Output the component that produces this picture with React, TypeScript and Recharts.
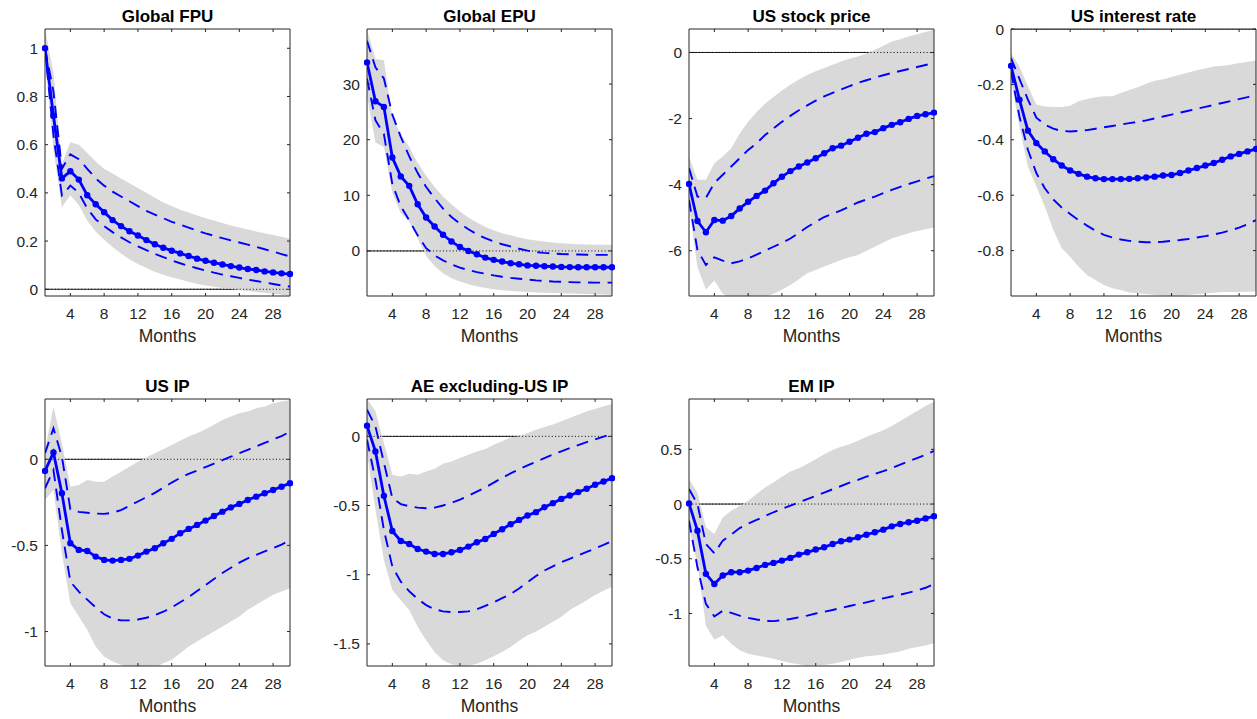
import React from 'react';
import { ComposedChart, Line, Area, XAxis, YAxis } from 'recharts';

// horizon (months) and shared x ticks
const months = [1, 2, 3, 4, 5, 6, 7, 8, 9, 10, 11, 12, 13, 14, 15, 16, 17, 18, 19, 20, 21, 22, 23, 24, 25, 26, 27, 28, 29, 30];
const monthTicks = [4, 8, 12, 16, 20, 24, 28];

// Global FPU
const fpuMed = [1.0, 0.72, 0.46, 0.49, 0.455, 0.39, 0.353, 0.32, 0.287, 0.262, 0.241, 0.223, 0.204, 0.187, 0.172, 0.16, 0.149, 0.138, 0.127, 0.118, 0.11, 0.103, 0.096, 0.09, 0.084, 0.08, 0.074, 0.07, 0.066, 0.063];
const fpuUp = [1.0, 0.82, 0.5, 0.56, 0.54, 0.5, 0.46, 0.43, 0.405, 0.385, 0.365, 0.345, 0.325, 0.31, 0.295, 0.28, 0.268, 0.256, 0.243, 0.232, 0.222, 0.212, 0.203, 0.194, 0.185, 0.176, 0.166, 0.156, 0.146, 0.136];
const fpuLo = [1.0, 0.64, 0.39, 0.43, 0.4, 0.335, 0.29, 0.262, 0.237, 0.215, 0.195, 0.178, 0.162, 0.147, 0.133, 0.12, 0.108, 0.097, 0.087, 0.078, 0.069, 0.061, 0.054, 0.047, 0.04, 0.034, 0.028, 0.022, 0.016, 0.011];
const fpuBandHi = [1.08, 0.9, 0.52, 0.61, 0.6, 0.565, 0.53, 0.5, 0.48, 0.46, 0.44, 0.42, 0.4, 0.38, 0.36, 0.345, 0.33, 0.318, 0.306, 0.295, 0.285, 0.275, 0.265, 0.256, 0.248, 0.24, 0.232, 0.225, 0.218, 0.21];
const fpuBandLo = [0.95, 0.58, 0.34, 0.39, 0.35, 0.285, 0.24, 0.205, 0.175, 0.148, 0.125, 0.105, 0.088, 0.073, 0.06, 0.05, 0.04, 0.031, 0.023, 0.016, 0.01, 0.005, 0.001, -0.003, -0.007, -0.011, -0.015, -0.019, -0.023, -0.027];
const fpuTicks = [0, 0.2, 0.4, 0.6, 0.8, 1];

// Global EPU
const epuMed = [33.9, 26.9, 25.9, 16.8, 13.4, 11.7, 8.4, 6.0, 4.4, 2.9, 1.7, 0.7, 0.0, -0.6, -1.2, -1.6, -1.9, -2.2, -2.4, -2.6, -2.65, -2.75, -2.8, -2.87, -2.9, -2.93, -2.93, -2.93, -2.93, -2.93];
const epuUp = [37.8, 33, 31, 24.5, 20.5, 17, 14, 11.5, 9.5, 7.6, 6.1, 4.9, 3.9, 3.0, 2.3, 1.7, 1.2, 0.8, 0.4, 0.05, -0.2, -0.35, -0.45, -0.55, -0.6, -0.65, -0.68, -0.7, -0.7, -0.7];
const epuLo = [31, 23.5, 21, 12, 8, 5.5, 2.8, 0.5, -0.8, -1.7, -2.4, -3.0, -3.45, -3.8, -4.1, -4.4, -4.65, -4.85, -5.0, -5.15, -5.3, -5.4, -5.5, -5.55, -5.6, -5.65, -5.68, -5.7, -5.7, -5.7];
const epuBandHi = [39.8, 34.5, 34.3, 24, 21, 18.7, 15.8, 13.5, 11.5, 9.8, 8.4, 7.1, 6.0, 5.1, 4.3, 3.7, 3.2, 2.8, 2.4, 2.1, 1.9, 1.7, 1.5, 1.4, 1.3, 1.2, 1.15, 1.1, 1.1, 1.1];
const epuBandLo = [28, 19.5, 18.7, 10.4, 6.8, 5.3, 2.2, -0.9, -2.7, -4.0, -4.9, -5.5, -6.0, -6.35, -6.65, -6.9, -7.05, -7.2, -7.3, -7.4, -7.45, -7.5, -7.55, -7.6, -7.65, -7.7, -7.75, -7.8, -7.85, -7.9];
const epuTicks = [0, 10, 20, 30];

// US stock price
const stockMed = [-3.98, -5.1, -5.44, -5.07, -5.09, -4.95, -4.72, -4.52, -4.34, -4.18, -3.96, -3.76, -3.59, -3.45, -3.33, -3.2, -3.05, -2.9, -2.82, -2.7, -2.58, -2.46, -2.41, -2.29, -2.19, -2.11, -2.01, -1.92, -1.87, -1.82];
const stockUp = [-3.5, -4.36, -4.4, -3.95, -3.7, -3.45, -3.2, -2.95, -2.75, -2.5, -2.3, -2.1, -1.92, -1.75, -1.6, -1.46, -1.33, -1.22, -1.12, -1.02, -0.92, -0.84, -0.76, -0.69, -0.62, -0.56, -0.5, -0.44, -0.38, -0.32];
const stockLo = [-4.46, -5.98, -6.43, -6.2, -6.3, -6.38, -6.32, -6.23, -6.12, -6.0, -5.88, -5.76, -5.63, -5.46, -5.28, -5.13, -4.98, -4.88, -4.78, -4.66, -4.54, -4.45, -4.36, -4.26, -4.16, -4.07, -3.98, -3.9, -3.82, -3.74];
const stockBandHi = [-3.15, -3.85, -3.85, -3.35, -3.15, -2.9, -2.45, -2.1, -1.8, -1.55, -1.35, -1.15, -0.98, -0.82, -0.68, -0.57, -0.47, -0.37, -0.27, -0.19, -0.12, -0.03, 0.08, 0.2, 0.33, 0.4, 0.48, 0.55, 0.62, 0.69];
const stockBandLo = [-4.65, -6.5, -7.17, -6.9, -7.3, -7.45, -7.5, -7.5, -7.45, -7.4, -7.3, -7.18, -7.04, -6.86, -6.68, -6.58, -6.48, -6.38, -6.28, -6.2, -6.13, -6.0, -5.88, -5.75, -5.63, -5.55, -5.47, -5.4, -5.35, -5.3];
const stockTicks = [-6, -4, -2, 0];

// US interest rate
const rateMed = [-0.133, -0.255, -0.367, -0.412, -0.442, -0.47, -0.493, -0.511, -0.523, -0.533, -0.539, -0.542, -0.542, -0.542, -0.541, -0.539, -0.536, -0.533, -0.529, -0.527, -0.52, -0.511, -0.502, -0.493, -0.484, -0.472, -0.46, -0.451, -0.442, -0.433];
const rateUp = [-0.105, -0.18, -0.255, -0.32, -0.345, -0.36, -0.368, -0.37, -0.368, -0.365, -0.36, -0.355, -0.35, -0.345, -0.34, -0.335, -0.33, -0.323, -0.316, -0.309, -0.302, -0.295, -0.288, -0.281, -0.274, -0.267, -0.26, -0.253, -0.246, -0.238];
const rateLo = [-0.153, -0.316, -0.436, -0.52, -0.575, -0.615, -0.645, -0.668, -0.69, -0.71, -0.728, -0.743, -0.753, -0.76, -0.765, -0.768, -0.77, -0.77, -0.768, -0.765, -0.762, -0.758, -0.753, -0.748, -0.742, -0.735, -0.727, -0.717, -0.705, -0.69];
const rateBandHi = [-0.087, -0.135, -0.207, -0.273, -0.28, -0.282, -0.282, -0.277, -0.261, -0.253, -0.246, -0.243, -0.243, -0.231, -0.22, -0.21, -0.198, -0.187, -0.181, -0.173, -0.165, -0.157, -0.149, -0.143, -0.135, -0.133, -0.129, -0.123, -0.119, -0.113];
const rateBandLo = [-0.183, -0.352, -0.496, -0.569, -0.641, -0.725, -0.792, -0.822, -0.858, -0.888, -0.906, -0.924, -0.936, -0.942, -0.951, -0.954, -0.957, -0.96, -0.962, -0.963, -0.962, -0.96, -0.958, -0.955, -0.952, -0.95, -0.95, -0.95, -0.949, -0.948];
const rateTicks = [-0.8, -0.6, -0.4, -0.2, 0];

// US IP
const usipMed = [-0.068, 0.039, -0.197, -0.487, -0.526, -0.532, -0.565, -0.584, -0.588, -0.584, -0.578, -0.559, -0.536, -0.516, -0.487, -0.462, -0.429, -0.404, -0.381, -0.356, -0.329, -0.304, -0.279, -0.259, -0.236, -0.217, -0.197, -0.178, -0.159, -0.139];
const usipUp = [0.035, 0.18, 0.015, -0.29, -0.305, -0.31, -0.315, -0.317, -0.31, -0.295, -0.27, -0.245, -0.22, -0.195, -0.165, -0.135, -0.108, -0.085, -0.065, -0.045, -0.025, -0.005, 0.015, 0.035, 0.055, 0.075, 0.095, 0.115, 0.135, 0.16];
const usipLo = [-0.168, -0.062, -0.41, -0.71, -0.768, -0.815, -0.86, -0.9, -0.925, -0.935, -0.935, -0.93, -0.92, -0.905, -0.885, -0.86, -0.83, -0.8, -0.765, -0.73, -0.695, -0.66, -0.63, -0.6, -0.575, -0.555, -0.535, -0.515, -0.495, -0.47];
const usipBandHi = [0.05, 0.306, 0.093, -0.159, -0.149, -0.12, -0.13, -0.13, -0.1, -0.072, -0.043, -0.014, 0.012, 0.035, 0.058, 0.083, 0.108, 0.132, 0.151, 0.174, 0.2, 0.228, 0.248, 0.267, 0.277, 0.296, 0.306, 0.325, 0.335, 0.344];
const usipBandLo = [-0.236, -0.178, -0.545, -0.836, -0.913, -0.99, -1.087, -1.145, -1.174, -1.193, -1.21, -1.22, -1.22, -1.21, -1.184, -1.164, -1.126, -1.087, -1.058, -1.029, -1.0, -0.971, -0.942, -0.913, -0.874, -0.845, -0.816, -0.787, -0.768, -0.749];
const usipTicks = [-1, -0.5, 0];

// AE excluding-US IP
const aeMed = [0.077, -0.109, -0.43, -0.684, -0.756, -0.778, -0.814, -0.833, -0.85, -0.85, -0.838, -0.821, -0.797, -0.766, -0.742, -0.705, -0.671, -0.635, -0.604, -0.572, -0.548, -0.512, -0.483, -0.452, -0.428, -0.403, -0.379, -0.35, -0.326, -0.302];
const aeUp = [0.193, 0.072, -0.19, -0.447, -0.49, -0.505, -0.515, -0.52, -0.515, -0.5, -0.48, -0.457, -0.43, -0.4, -0.37, -0.335, -0.3, -0.268, -0.238, -0.21, -0.183, -0.157, -0.132, -0.108, -0.085, -0.063, -0.042, -0.022, -0.002, 0.02];
const aeLo = [-0.024, -0.314, -0.676, -0.942, -1.05, -1.12, -1.175, -1.22, -1.25, -1.265, -1.27, -1.27, -1.265, -1.25, -1.225, -1.2, -1.17, -1.14, -1.1, -1.055, -1.01, -0.97, -0.94, -0.91, -0.885, -0.86, -0.835, -0.81, -0.785, -0.757];
const aeBandHi = [0.27, 0.181, -0.048, -0.278, -0.29, -0.27, -0.278, -0.254, -0.234, -0.198, -0.181, -0.157, -0.133, -0.109, -0.092, -0.06, -0.036, -0.007, 0.0, 0.024, 0.048, 0.068, 0.085, 0.109, 0.133, 0.157, 0.181, 0.198, 0.217, 0.234];
const aeBandLo = [-0.121, -0.531, -0.894, -1.111, -1.184, -1.256, -1.377, -1.473, -1.558, -1.618, -1.647, -1.662, -1.657, -1.643, -1.618, -1.589, -1.558, -1.522, -1.478, -1.437, -1.413, -1.377, -1.341, -1.304, -1.256, -1.22, -1.184, -1.147, -1.116, -1.087];
const aeTicks = [-1.5, -1, -0.5, 0];

// EM IP
const emMed = [0.006, -0.243, -0.638, -0.73, -0.653, -0.623, -0.623, -0.608, -0.584, -0.556, -0.538, -0.517, -0.492, -0.462, -0.441, -0.416, -0.395, -0.365, -0.34, -0.325, -0.304, -0.28, -0.258, -0.234, -0.204, -0.182, -0.167, -0.152, -0.131, -0.112];
const emUp = [0.137, 0.0, -0.365, -0.45, -0.334, -0.28, -0.22, -0.18, -0.145, -0.11, -0.075, -0.045, -0.015, 0.015, 0.045, 0.075, 0.105, 0.135, 0.165, 0.195, 0.22, 0.25, 0.275, 0.3, 0.33, 0.36, 0.39, 0.42, 0.45, 0.485];
const emLo = [-0.152, -0.578, -0.912, -1.027, -0.975, -0.995, -1.02, -1.04, -1.055, -1.068, -1.07, -1.062, -1.05, -1.035, -1.02, -1.0, -0.985, -0.968, -0.95, -0.932, -0.915, -0.898, -0.88, -0.862, -0.845, -0.828, -0.81, -0.79, -0.765, -0.73];
const emBandHi = [0.228, 0.106, -0.213, -0.274, -0.122, -0.061, -0.015, 0.03, 0.091, 0.152, 0.198, 0.249, 0.298, 0.328, 0.365, 0.41, 0.456, 0.495, 0.523, 0.547, 0.578, 0.614, 0.644, 0.675, 0.714, 0.76, 0.805, 0.851, 0.897, 0.936];
const emBandLo = [-0.213, -0.547, -1.109, -1.24, -1.2, -1.277, -1.337, -1.368, -1.383, -1.398, -1.413, -1.435, -1.453, -1.465, -1.48, -1.474, -1.471, -1.459, -1.444, -1.422, -1.404, -1.392, -1.383, -1.374, -1.362, -1.347, -1.322, -1.307, -1.292, -1.271];
const emTicks = [-1, -0.5, 0, 0.5];

const panels = [
  { title: 'Global FPU', med: fpuMed, up: fpuUp, lo: fpuLo, hi: fpuBandHi, low: fpuBandLo, ticks: fpuTicks, domain: [-0.028, 1.08] },
  { title: 'Global EPU', med: epuMed, up: epuUp, lo: epuLo, hi: epuBandHi, low: epuBandLo, ticks: epuTicks, domain: [-8.1, 39.9] },
  { title: 'US stock price', med: stockMed, up: stockUp, lo: stockLo, hi: stockBandHi, low: stockBandLo, ticks: stockTicks, domain: [-7.37, 0.71] },
  { title: 'US interest rate', med: rateMed, up: rateUp, lo: rateLo, hi: rateBandHi, low: rateBandLo, ticks: rateTicks, domain: [-0.964, 0] },
  { title: 'US IP', med: usipMed, up: usipUp, lo: usipLo, hi: usipBandHi, low: usipBandLo, ticks: usipTicks, domain: [-1.2, 0.35] },
  { title: 'AE excluding-US IP', med: aeMed, up: aeUp, lo: aeLo, hi: aeBandHi, low: aeBandLo, ticks: aeTicks, domain: [-1.66, 0.27] },
  { title: 'EM IP', med: emMed, up: emUp, lo: emLo, hi: emBandHi, low: emBandLo, ticks: emTicks, domain: [-1.48, 0.96] },
];

const COL_X = [45, 367, 689, 1011];
const ROW_Y = [29, 399];
const PLOT_W = 245;
const PLOT_H = 267;
const AXIS_W = 45;
const AXIS_H = 50;
const PAD = 12;
const FONT = '"Liberation Sans", Arial, Helvetica, sans-serif';
const AX = '#262626';
const BLUE = '#0000ff';

const Panel = ({ p, left, top }: any) => {
  const rows = months.map((m, i) => ({
    m,
    med: p.med[i],
    up: p.up[i],
    lo: p.lo[i],
    band: [p.low[i], p.hi[i]],
    zero: 0,
  }));
  const tickStyle = { fontSize: 15.5, fill: AX, fontFamily: FONT };
  const common = { isAnimationActive: false, activeDot: false, type: 'linear' as const };

  return (
    <>
      <div
        style={{
          position: 'absolute', left, top: top - 21.4, width: PLOT_W, textAlign: 'center',
          fontFamily: FONT, fontWeight: 'bold', fontSize: 17, lineHeight: '17px', color: '#000', whiteSpace: 'nowrap',
        }}
      >
        {p.title}
      </div>
      <div style={{ position: 'absolute', left: left - AXIS_W, top: top - PAD }}>
        <ComposedChart
          width={AXIS_W + PLOT_W + PAD}
          height={PAD + PLOT_H + AXIS_H}
          data={rows}
          margin={{ top: PAD - 1, right: PAD - 1, bottom: 0, left: 0 }}
        >
          <XAxis
            xAxisId="b" dataKey="m" type="number" domain={[1, 30]} ticks={monthTicks} interval={0}
            allowDataOverflow height={AXIS_H} tickSize={-3} tickMargin={15} tick={tickStyle}
            axisLine={{ stroke: AX }} tickLine={{ stroke: AX }}
          />
          {/* top and right frame: MATLAB-style box with inward ticks */}
          <XAxis
            xAxisId="t" orientation="top" dataKey="m" type="number" domain={[1, 30]} ticks={monthTicks} interval={0}
            allowDataOverflow height={1} tickSize={-3} tickFormatter={() => ''}
            axisLine={{ stroke: AX }} tickLine={{ stroke: AX }}
          />
          <YAxis
            yAxisId="l" type="number" domain={p.domain} ticks={p.ticks} interval={0} allowDataOverflow
            width={AXIS_W} tickSize={-3} tickMargin={10} tick={tickStyle}
            axisLine={{ stroke: AX }} tickLine={{ stroke: AX }}
          />
          <YAxis
            yAxisId="r" orientation="right" type="number" domain={p.domain} ticks={p.ticks} interval={0} allowDataOverflow
            width={1} tickSize={-3} tickFormatter={() => ''}
            axisLine={{ stroke: AX }} tickLine={{ stroke: AX }}
          />
          <Line xAxisId="t" yAxisId="r" dataKey="zero" stroke="none" dot={false} {...common} />
          {/* solid zero line, hidden wherever the band covers it */}
          <Area
            xAxisId="b" yAxisId="l" dataKey="zero" stroke="#000" strokeWidth={0.9}
            fill="none" dot={false} {...common}
          />
          <Area
            xAxisId="b" yAxisId="l" dataKey="band" stroke="none" fill="#d9d9d9" fillOpacity={1}
            dot={false} {...common}
          />
          <Line
            xAxisId="b" yAxisId="l" dataKey="zero" stroke="#000" strokeWidth={1}
            strokeDasharray="1 2.3" dot={false} {...common}
          />
          <Line
            xAxisId="b" yAxisId="l" dataKey="up" stroke={BLUE} strokeWidth={1.9}
            strokeDasharray="12 7.5" dot={false} {...common}
          />
          <Line
            xAxisId="b" yAxisId="l" dataKey="lo" stroke={BLUE} strokeWidth={1.9}
            strokeDasharray="12 7.5" dot={false} {...common}
          />
          <Line
            xAxisId="b" yAxisId="l" dataKey="med" stroke={BLUE} strokeWidth={2.8}
            dot={{ r: 3.2, fill: BLUE, stroke: BLUE, strokeWidth: 0, clipDot: false }}
            {...common}
          />
        </ComposedChart>
      </div>
      <div
        style={{
          position: 'absolute', left, top: top + PLOT_H + 32.2, width: PLOT_W, textAlign: 'center',
          fontFamily: FONT, fontSize: 17.5, lineHeight: '17.5px', color: AX,
        }}
      >
        Months
      </div>
    </>
  );
};

export default function App() {
  return (
    <div
      style={{
        position: 'absolute', left: 0, top: 0, width: 1257, height: 719,
        background: '#fff', overflow: 'hidden',
      }}
    >
      {panels.map((p, i) => (
        <Panel key={p.title} p={p} left={COL_X[i % 4]} top={ROW_Y[Math.floor(i / 4)]} />
      ))}
    </div>
  );
}
